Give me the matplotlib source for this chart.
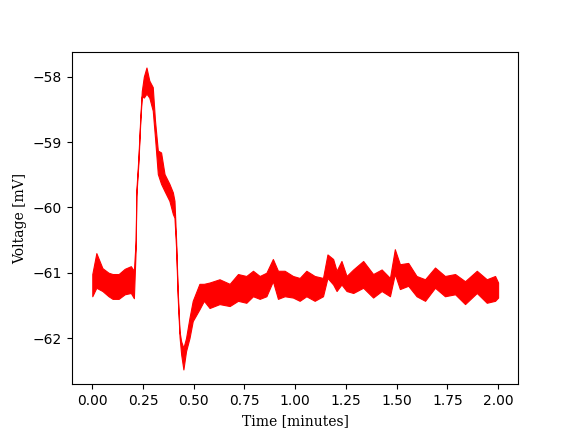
import matplotlib
matplotlib.use("Agg")
import matplotlib.pyplot as plt

# Time (minutes) and envelope of the noisy voltage trace (mV)
time_min = [0.000, 0.020, 0.050, 0.080, 0.100, 0.130, 0.160, 0.190, 0.205,
            0.214, 0.217, 0.227, 0.237, 0.244, 0.254, 0.267, 0.281, 0.298,
            0.309, 0.323, 0.339, 0.356, 0.380, 0.397, 0.405, 0.413, 0.421,
            0.430, 0.438, 0.449, 0.462, 0.479, 0.495, 0.528, 0.550, 0.578,
            0.627, 0.677, 0.718, 0.759, 0.792, 0.825, 0.858, 0.890, 0.915,
            0.948, 0.989, 1.022, 1.055, 1.096, 1.137, 1.159, 1.187, 1.204,
            1.228, 1.253, 1.286, 1.335, 1.384, 1.426, 1.467, 1.491, 1.516,
            1.557, 1.598, 1.640, 1.689, 1.738, 1.788, 1.837, 1.895, 1.944,
            1.985, 2.000]
v_upper = [-61.02, -60.70, -60.93, -61.00, -61.02, -61.02, -60.94, -60.90, -60.97,
           -60.50, -59.75, -59.25, -58.60, -58.22, -58.00, -57.86, -58.06, -58.16,
           -58.67, -59.13, -59.16, -59.49, -59.64, -59.77, -59.90, -60.50, -61.28,
           -61.90, -62.05, -62.15, -62.00, -61.69, -61.43, -61.17, -61.17, -61.15,
           -61.10, -61.17, -61.02, -61.05, -60.97, -61.05, -61.00, -60.79, -60.97,
           -60.97, -61.05, -61.08, -60.97, -61.05, -61.08, -60.72, -60.79, -60.97,
           -60.82, -61.05, -60.95, -60.82, -61.02, -60.95, -61.08, -60.64, -60.87,
           -60.85, -61.05, -61.10, -60.92, -61.05, -61.02, -61.13, -60.97, -61.10,
           -61.05, -61.15]
v_lower = [-61.36, -61.23, -61.28, -61.36, -61.40, -61.40, -61.33, -61.31, -61.39,
           -60.62, -59.83, -59.33, -58.66, -58.30, -58.32, -58.26, -58.32, -58.52,
           -58.93, -59.49, -59.64, -59.75, -59.90, -60.10, -60.16, -60.62, -61.38,
           -61.98, -62.25, -62.48, -62.20, -62.00, -61.74, -61.56, -61.43, -61.54,
           -61.48, -61.51, -61.43, -61.46, -61.36, -61.40, -61.36, -61.13, -61.40,
           -61.36, -61.38, -61.43, -61.36, -61.43, -61.36, -61.08, -61.18, -61.28,
           -61.18, -61.28, -61.31, -61.23, -61.38, -61.28, -61.36, -61.02, -61.25,
           -61.20, -61.36, -61.43, -61.23, -61.36, -61.33, -61.48, -61.31, -61.46,
           -61.43, -61.38]

fig, ax = plt.subplots(figsize=(5.76, 4.32), dpi=100)
ax.fill_between(time_min, v_lower, v_upper, color="red", edgecolor="red", linewidth=0.8)
ax.set_xlim(-0.1, 2.1)
ax.set_ylim(-62.71, -57.62)
ax.set_xticks([0.0, 0.25, 0.5, 0.75, 1.0, 1.25, 1.5, 1.75, 2.0])
ax.set_xticklabels(["0.00", "0.25", "0.50", "0.75", "1.00", "1.25", "1.50", "1.75", "2.00"])
ax.set_yticks([-62, -61, -60, -59, -58])
ax.set_xlabel("Time [minutes]", family="DejaVu Serif")
ax.set_ylabel("Voltage [mV]", family="DejaVu Serif")
fig.savefig("out.png", dpi=100)
